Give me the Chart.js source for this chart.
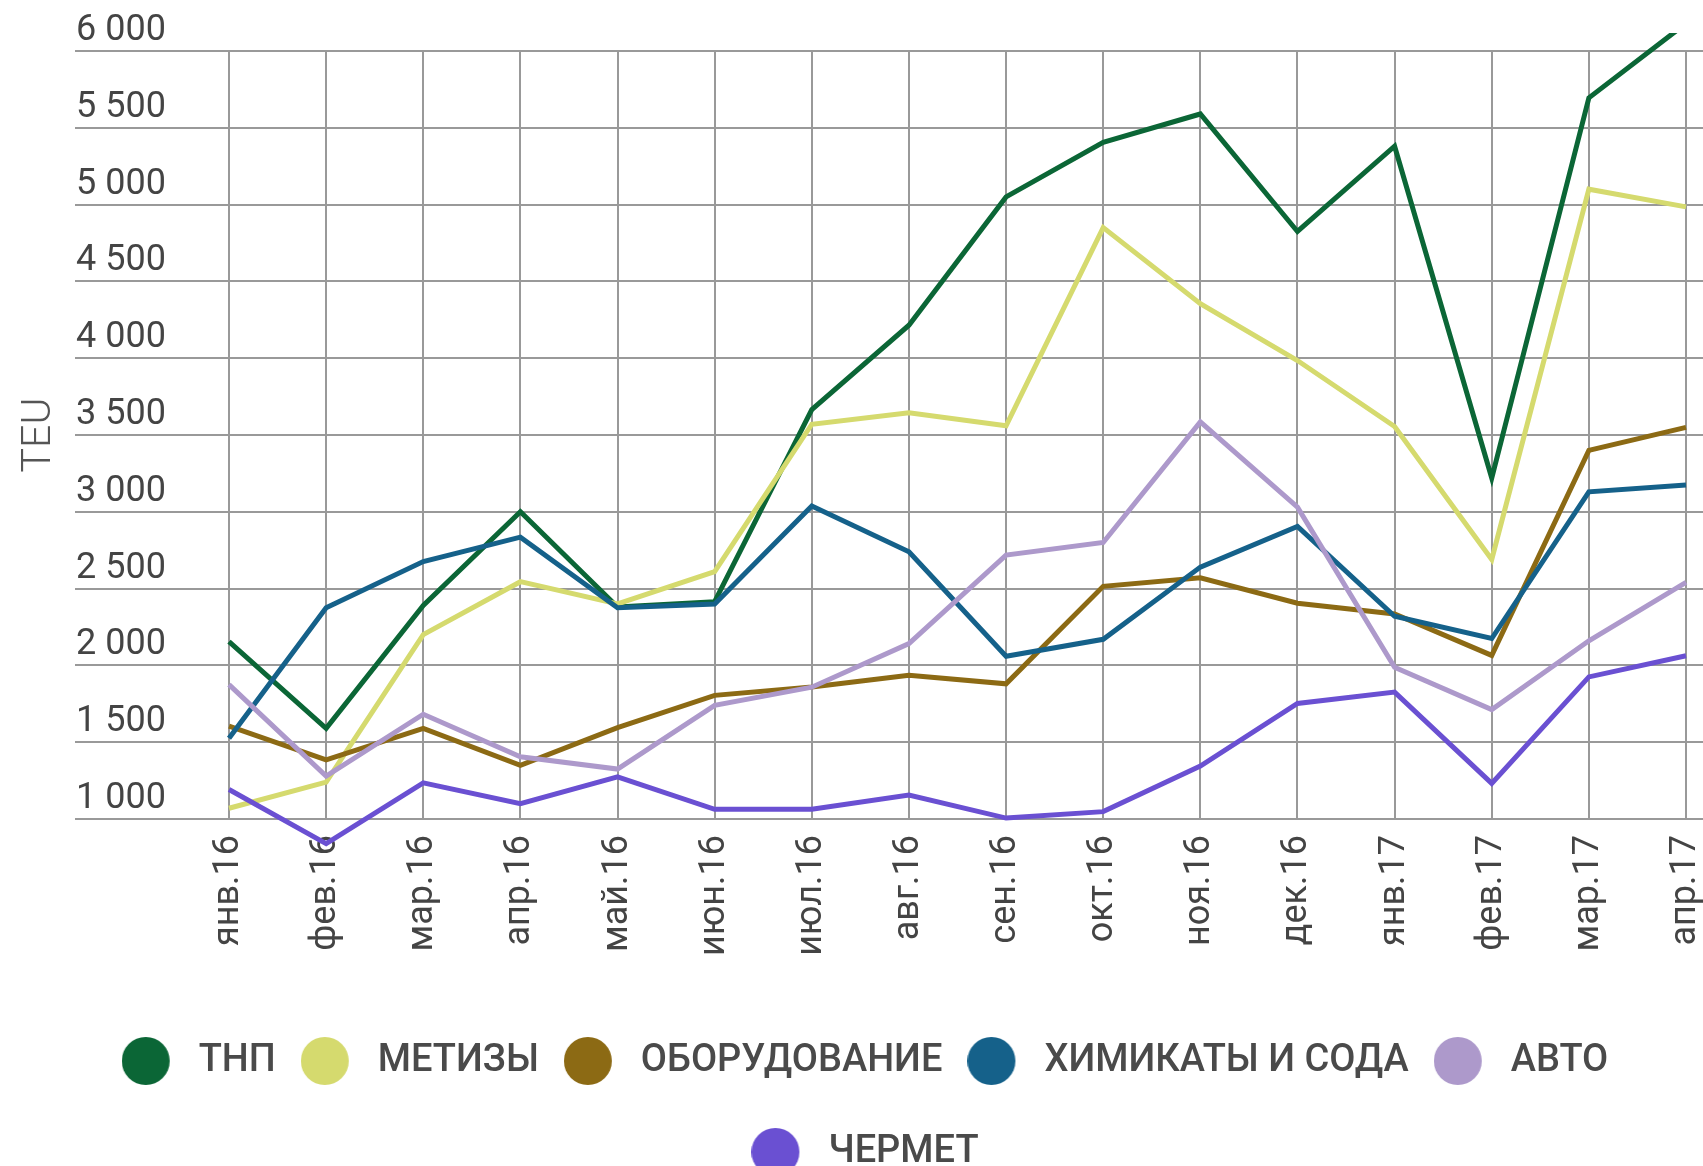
<!DOCTYPE html>
<html lang="ru">
<head>
<meta charset="utf-8">
<title>TEU по группам грузов</title>
<script src="https://cdn.jsdelivr.net/npm/chart.js@4.4.1/dist/chart.umd.min.js"></script>
<style>
  html, body { margin: 0; padding: 0; background: #fff; overflow: hidden; }
  .chart-container { position: relative; width: 1703px; height: 1181px; }
</style>
</head>
<body>
<div class="chart-container"><canvas id="teu-chart"></canvas></div>
<script>
// Months on the x axis
var months = ['янв.16', 'фев.16', 'мар.16', 'апр.16', 'май.16', 'июн.16', 'июл.16', 'авг.16',
  'сен.16', 'окт.16', 'ноя.16', 'дек.16', 'янв.17', 'фев.17', 'мар.17', 'апр.17'];

// Series values, TEU
var tnp = [2155, 1590, 2390, 3000, 2380, 2415, 3665, 4215, 5050, 5405, 5590, 4825, 5380, 3220, 5695, 6180];
var metizy = [1070, 1240, 2200, 2545, 2400, 2610, 3570, 3645, 3560, 4850, 4355, 3985, 3555, 2690, 5100, 4985];
var oborudovanie = [1605, 1385, 1590, 1350, 1595, 1805, 1860, 1935, 1880, 2515, 2570, 2405, 2335, 2065, 3400, 3550];
var khimikaty = [1525, 2375, 2676, 2835, 2375, 2400, 3038, 2740, 2060, 2170, 2640, 2905, 2320, 2175, 3130, 3175];
var avto = [1875, 1280, 1682, 1405, 1325, 1740, 1858, 2142, 2718, 2800, 3585, 3030, 1987, 1712, 2160, 2540];
var chermet = [1192, 840, 1235, 1100, 1275, 1063, 1063, 1156, 1006, 1048, 1345, 1752, 1826, 1232, 1925, 2063];

var seriesNames = ['ТНП', 'МЕТИЗЫ', 'ОБОРУДОВАНИЕ', 'ХИМИКАТЫ И СОДА', 'АВТО', 'ЧЕРМЕТ'];
var seriesValues = [tnp, metizy, oborudovanie, khimikaty, avto, chermet];
var seriesColors = ['#0b6636', '#d5da6e', '#8c6a14', '#15618a', '#ad99cb', '#6a50d2'];

// y axis range and step
var yMin = 1000;
var yMax = 6000;
var yStep = 500;

window.addEventListener('DOMContentLoaded', function () {
  var ctx = document.getElementById('teu-chart').getContext('2d');
  renderChart(ctx);
});

// round legend marker, drawn into a small canvas so the text sits further away
function makeDot(color) {
  var dot = document.createElement('canvas');
  dot.width = 86;
  dot.height = 48;
  var c = dot.getContext('2d');
  c.fillStyle = color;
  c.beginPath();
  c.arc(24, 24, 24, 0, Math.PI * 2);
  c.fill();
  return dot;
}

// "6 000" style numbers
function formatTeu(v) {
  var th = Math.floor(v / 1000);
  var rest = String(v % 1000);
  while (rest.length < 3) rest = '0' + rest;
  return th > 0 ? th + ' ' + rest : String(v);
}

// nudge the legend a little to the left, the way the original sits
var legendShift = {
  id: 'legendShift',
  afterLayout: function (chart) {
    if (chart.legend) {
      chart.legend.left -= 10;
      chart.legend.right -= 10;
    }
  }
};

function renderChart(ctx) {
  var datasets = seriesNames.map(function (name, i) {
    return {
      label: name,
      data: seriesValues[i].map(function (v, j) { return { x: j, y: v }; }),
      borderColor: seriesColors[i],
      backgroundColor: seriesColors[i],
      borderWidth: 5,
      pointRadius: 0,
      pointHoverRadius: 0,
      tension: 0,
      order: -i,
      clip: { left: 0, top: 18, right: 0, bottom: 30 }
    };
  });

  var tickFont = { family: 'Roboto', size: 36 };

  new Chart(ctx, {
    type: 'line',
    data: { datasets: datasets },
    plugins: [legendShift],
    options: {
      responsive: true,
      maintainAspectRatio: false,
      animation: false,
      layout: { padding: { top: 51, left: 0, right: 0, bottom: 0 } },
      scales: {
        x: {
          type: 'linear',
          bounds: 'data',
          min: -1.5855,
          max: months.length - 1 + 0.175,
          afterBuildTicks: function (axis) {
            axis.ticks = months.map(function (m, i) { return { value: i }; });
          },
          afterFit: function (scale) {
            scale.height = 170;
            scale.paddingLeft = 0;
            scale.paddingRight = 0;
          },
          grid: { color: '#999', lineWidth: 2, drawTicks: false },
          border: { display: false },
          ticks: {
            autoSkip: false,
            minRotation: 90,
            maxRotation: 90,
            padding: 16,
            color: '#444',
            font: tickFont,
            callback: function (value) { return months[value]; }
          }
        },
        y: {
          min: yMin,
          max: yMax,
          afterFit: function (scale) {
            scale.width = 75;
            scale.paddingTop = 0;
            scale.paddingBottom = 0;
          },
          grid: { color: '#999', lineWidth: 2, drawTicks: false },
          border: { display: false },
          title: {
            display: true,
            text: 'TEU',
            color: '#555',
            font: { family: 'Roboto', size: 41, weight: '300' },
            padding: { top: 15, bottom: 9 }
          },
          ticks: {
            stepSize: yStep,
            mirror: true,
            padding: 1,
            labelOffset: -20,
            color: '#444',
            font: tickFont,
            callback: function (value) { return formatTeu(value); }
          }
        }
      },
      plugins: {
        tooltip: { enabled: false },
        legend: {
          display: true,
          position: 'bottom',
          fullSize: false,
          labels: {
            usePointStyle: true,
            pointStyleWidth: 30,
            boxHeight: 38,
            padding: 53,
            color: '#4a4a4a',
            font: { family: 'Roboto', size: 38, weight: '500' },
            sort: function (a, b) { return a.datasetIndex - b.datasetIndex; },
            generateLabels: function (chart) {
              var items = Chart.defaults.plugins.legend.labels.generateLabels(chart);
              items.forEach(function (item) {
                item.pointStyle = makeDot(seriesColors[item.datasetIndex]);
              });
              return items;
            }
          }
        }
      }
    }
  });
}
</script>
</body>
</html>
